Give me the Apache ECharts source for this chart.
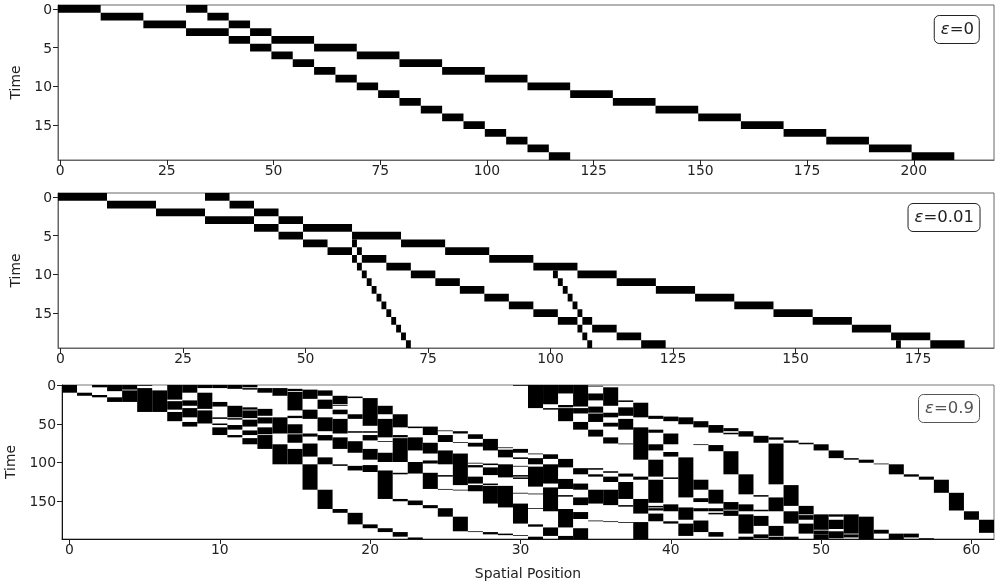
<!DOCTYPE html>
<html>
<head>
<meta charset="utf-8">
<title>Traffic space-time</title>
<style>
    html, body { margin: 0; padding: 0; background: #fff; }
    #chart { width: 1000px; height: 588px; }
</style>
<script src="https://cdn.jsdelivr.net/npm/echarts@6/dist/echarts.min.js"></script>
</head>
<body>
<div id="chart"></div>
<script>
    // occupied cells per time step: [time, firstCell, endCell]
    var eps0Runs = [
        [0,0,10],[0,30,35],[1,10,20],[1,35,40],[2,20,30],[2,40,45],[3,30,40],[3,45,50],
        [4,40,45],[4,50,60],[5,45,50],[5,60,70],[6,50,55],[6,70,80],[7,55,60],[7,80,90],
        [8,60,65],[8,90,100],[9,65,70],[9,100,110],[10,70,75],[10,110,120],[11,75,80],[11,120,130],
        [12,80,85],[12,130,140],[13,85,90],[13,140,150],[14,90,95],[14,150,160],[15,95,100],[15,160,170],
        [16,100,105],[16,170,180],[17,105,110],[17,180,190],[18,110,115],[18,190,200],[19,115,120],[19,200,210]
    ];
    var eps001Runs = [
        [0,0,10],[0,30,35],[1,10,20],[1,35,40],[2,20,30],[2,40,45],[3,30,40],[3,45,50],
        [4,40,45],[4,50,60],[5,45,50],[5,60,70],[6,50,55],[6,60,61],[6,70,79],
        [7,55,60],[7,61,62],[7,79,88],[8,60,61],[8,62,67],[8,88,97],
        [9,61,62],[9,67,72],[9,97,106],[10,62,63],[10,72,77],[10,101,102],[10,106,114],
        [11,63,64],[11,77,82],[11,102,103],[11,114,122],[12,64,65],[12,82,87],[12,103,104],[12,122,130],
        [13,65,66],[13,87,92],[13,104,105],[13,130,138],[14,66,67],[14,92,97],[14,105,106],[14,138,146],
        [15,67,68],[15,97,102],[15,106,107],[15,146,154],[16,68,69],[16,102,106],[16,107,109],[16,154,162],
        [17,69,70],[17,106,107],[17,109,114],[17,162,170],[18,70,71],[18,107,108],[18,114,119],[18,170,178],
        [19,71,72],[19,108,109],[19,119,124],[19,171,172],[19,178,185]
    ];
    // occupied time spans per cell, index = spatial position: [startTime, endTime]
    var eps09Runs = [
        [[0,10]],
        [[10,14]],
        [[0,3],[13,16]],
        [[0,8],[16,22]],
        [[0,6],[7,22]],
        [[0,1],[4,35]],
        [[7,35]],
        [[0,19],[21,32],[35,47]],
        [[0,10],[20,27],[30,42],[48,54]],
        [[0,4],[10,31],[33,50]],
        [[0,4],[22,28],[42,44],[50,52],[55,65]],
        [[0,5],[27,42],[43,45],[52,58],[65,68]],
        [[0,3],[4,6],[29,32],[33,43],[45,54],[59,65],[69,77]],
        [[4,10],[31,40],[42,50],[55,64],[65,83]],
        [[4,14],[42,63],[77,103]],
        [[5,8],[9,33],[40,43],[51,63],[64,75],[83,103]],
        [[6,18],[32,44],[63,67],[76,93],[103,136]],
        [[7,14],[19,31],[42,60],[65,72],[94,103],[136,161]],
        [[14,25],[26,27],[32,38],[44,63],[68,83],[103,105],[161,166]],
        [[15,17],[38,44],[60,62],[73,88],[105,111],[166,181]],
        [[17,53],[60,62],[65,72],[83,97],[104,113],[181,186]],
        [[27,38],[44,68],[73,74],[88,100],[111,148],[186,191]],
        [[38,55],[65,68],[69,100],[114,116],[148,151],[191,197]],
        [[54,56],[68,85],[100,115],[150,156],[198,200]],
        [[54,65],[75,89],[98,102],[114,135],[156,160]],
        [[59,60],[65,74],[85,103],[117,119],[135,136],[160,171]],
        [[60,63],[74,75],[89,130],[136,137],[171,190]],
        [[64,70],[75,80],[101,102],[104,107],[119,128],[130,138],[190,191]],
        [[70,85],[102,104],[107,117],[128,130],[131,154],[191,194]],
        [[81,82],[84,94],[103,120],[131,159],[193,195]],
        [[0,1],[83,88],[94,96],[105,106],[117,119],[120,122],[140,141],[154,180],[195,196]],
        [[0,30],[89,90],[95,103],[106,132],[141,142],[160,161],[181,184],[197,200]],
        [[0,25],[30,32],[90,96],[103,128],[133,164],[185,196]],
        [[0,11],[26,29],[30,47],[96,107],[122,135],[143,145],[161,185],[196,200]],
        [[0,28],[30,37],[48,58],[108,116],[128,136],[146,156],[165,174],[186,200]],
        [[1,2],[11,20],[28,36],[37,48],[58,67],[108,110],[116,119],[136,154],[176,177]],
        [[3,27],[36,42],[49,54],[68,76],[112,114],[119,126],[136,156],[177,178]],
        [[20,22],[29,40],[44,58],[76,77],[115,119],[126,148],[156,158],[178,179]],
        [[23,42],[55,97],[119,123],[148,167],[178,200]],
        [[40,44],[58,62],[77,85],[97,119],[123,153],[157,159],[160,163],[167,177]],
        [[41,47],[63,77],[87,93],[120,122],[155,164],[177,180]],
        [[42,51],[94,146],[159,175],[180,196]],
        [[47,55],[77,78],[123,136],[147,152],[160,164],[176,191]],
        [[52,62],[78,86],[136,154],[160,164],[166,168],[191,197]],
        [[56,60],[62,64],[86,116],[152,162],[163,170]],
        [[60,67],[116,142],[155,164],[168,193],[197,200]],
        [[66,75],[143,145],[162,164],[170,183],[194,199]],
        [[68,71],[76,129],[146,164],[183,196],[197,200]],
        [[72,75],[130,157],[164,180],[197,200]],
        [[75,77],[157,168],[169,175],[180,193]],
        [[77,85],[168,188],[189,194],[194,200]],
        [[85,95],[168,171],[175,187],[190,199]],
        [[95,97],[168,193],[194,198]],
        [[97,101],[171,200]],
        [[102,103],[188,193]],
        [[103,116],[193,200]],
        [[116,119],[193,198]],
        [[119,123],[199,200]],
        [[123,140]],
        [[140,163]],
        [[164,175]],
        [[175,192]]
    ];
    var xTicks0 = [0, 25, 50, 75, 100, 125, 150, 175, 200];
    var xTicks001 = [0, 25, 50, 75, 100, 125, 150, 175];
    var xTicks09 = [0, 10, 20, 30, 40, 50, 60];
    var yTicksShort = [0, 5, 10, 15];
    var yTicksLong = [0, 50, 100, 150];
    var labels = ['0', '0.01', '0.9'];

    var font = 'DejaVu Sans';
    var textSize = 13.9;

    function rowCells(runs) {
        return runs.map(function (r) {
            return [r[1] - 0.5, r[2] - 0.5, r[0] - 0.5, r[0] + 0.5];
        });
    }

    function columnCells(runs) {
        var out = [];
        runs.forEach(function (spans, pos) {
            spans.forEach(function (s) {
                out.push([pos - 0.5, pos + 0.5, s[0] - 0.5, s[1] - 0.5]);
            });
        });
        return out;
    }

    function renderCell(params, api) {
        var a = api.coord([api.value(0), api.value(2)]);
        var b = api.coord([api.value(1), api.value(3)]);
        return {
            type: 'rect',
            shape: {x: a[0], y: a[1], width: b[0] - a[0], height: b[1] - a[1]},
            style: {fill: '#000'}
        };
    }

    function xAxis(idx, max, ticks, line, extra) {
        return Object.assign({
            type: 'value',
            gridIndex: idx,
            min: -0.5,
            max: max,
            position: 'bottom',
            splitLine: {show: false},
            axisLine: {show: true, onZero: false, lineStyle: {color: line, width: 1}},
            axisTick: {show: true, length: 5, customValues: ticks, lineStyle: {color: '#222', width: 1}},
            axisLabel: {customValues: ticks, fontFamily: font, fontSize: textSize, color: '#222', margin: 4, hideOverlap: false}
        }, extra || {});
    }

    function yAxis(idx, max, ticks, line, nameGap) {
        return {
            type: 'value',
            gridIndex: idx,
            inverse: true,
            min: -0.5,
            max: max,
            name: 'Time',
            nameLocation: 'middle',
            nameGap: nameGap,
            nameTextStyle: {fontFamily: font, fontSize: textSize, color: '#222'},
            splitLine: {show: false},
            axisLine: {show: true, onZero: false, lineStyle: {color: line, width: 1}},
            axisTick: {show: true, length: 5, customValues: ticks, lineStyle: {color: '#222', width: 1}},
            axisLabel: {
                customValues: ticks,
                margin: 6,
                formatter: '{t|{value}}',
                rich: {t: {fontFamily: font, fontSize: textSize, color: '#222', padding: [3, 0, 0, 0]}}
            }
        };
    }

    function badge(text, top, color) {
        return {
            text: '{e|ε}=' + text,
            right: 20,
            top: top,
            padding: [6, 6, 6, 7],
            borderColor: color,
            borderWidth: 1,
            borderRadius: 5,
            backgroundColor: '#fff',
            textStyle: {
                fontFamily: font,
                fontSize: 16.5,
                fontWeight: 'normal',
                color: color,
                rich: {e: {fontFamily: font, fontSize: 16.5, fontStyle: 'italic', color: color}}
            }
        };
    }

    function cellSeries(idx, data) {
        return {
            type: 'custom',
            xAxisIndex: idx,
            yAxisIndex: idx,
            coordinateSystem: 'cartesian2d',
            renderItem: renderCell,
            encode: {x: [0, 1], y: [2, 3]},
            clip: true,
            silent: true,
            animation: false,
            data: data
        };
    }

    var myChart = echarts.init(document.getElementById('chart'), null, {renderer: 'canvas'});
    myChart.setOption({
        animation: false,
        backgroundColor: '#fff',
        title: [
            badge(labels[0], 15, '#222'),
            badge(labels[1], 203, '#222'),
            badge(labels[2], 394, '#555')
        ],
        grid: [
            {left: 58, right: 6, top: 5, height: 155, show: true, borderColor: '#666', borderWidth: 1, outerBoundsMode: 'none'},
            {left: 58, right: 6, top: 193, height: 155, show: true, borderColor: '#666', borderWidth: 1, outerBoundsMode: 'none'},
            {left: 62, right: 6, top: 385, height: 154, show: true, borderColor: '#777', borderWidth: 1, outerBoundsMode: 'none'}
        ],
        xAxis: [
            xAxis(0, 218.8, xTicks0, '#666'),
            xAxis(1, 190.5, xTicks001, '#666'),
            xAxis(2, 61.5, xTicks09, '#111', {
                name: 'Spatial Position',
                nameLocation: 'middle',
                nameGap: 28,
                nameTextStyle: {fontFamily: font, fontSize: textSize, color: '#222'}
            })
        ],
        yAxis: [
            yAxis(0, 19.5, yTicksShort, '#666', 34),
            yAxis(1, 19.5, yTicksShort, '#666', 34),
            yAxis(2, 199.5, yTicksLong, '#111', 43)
        ],
        series: [
            cellSeries(0, rowCells(eps0Runs)),
            cellSeries(1, rowCells(eps001Runs)),
            cellSeries(2, columnCells(eps09Runs))
        ]
    });
</script>
</body>
</html>
